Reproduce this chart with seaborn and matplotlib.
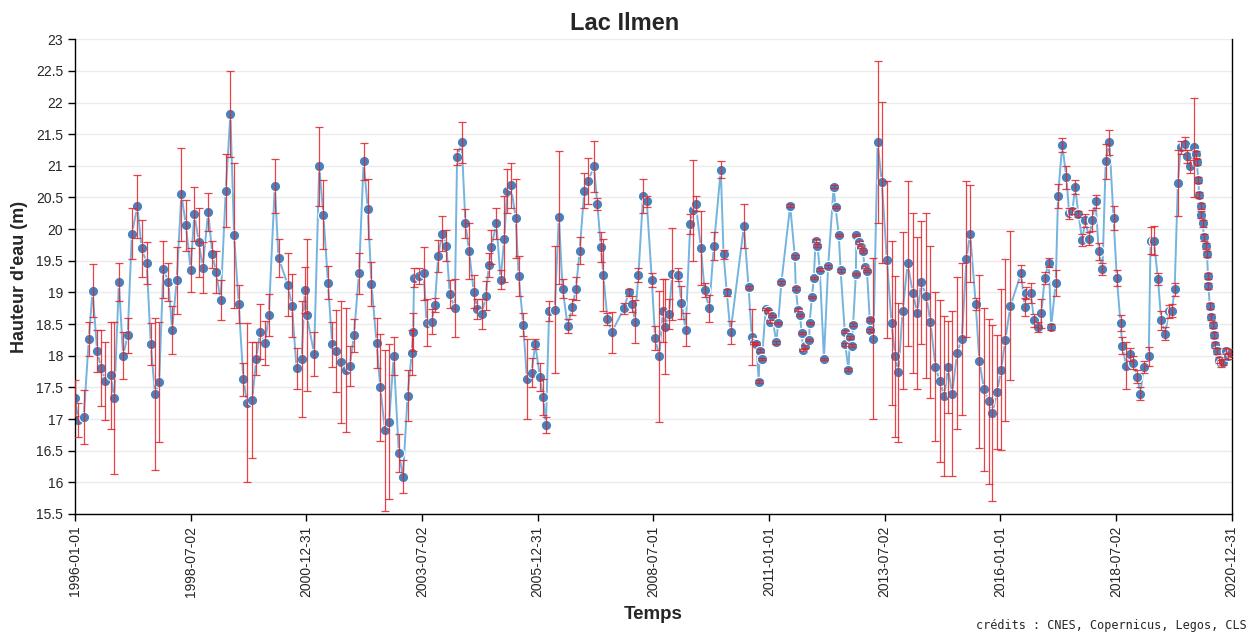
import numpy as np
import pandas as pd
import seaborn as sns
import matplotlib.pyplot as plt

# ==============================
# Data
# ==============================
years = [
    1996.00, 1996.07, 1996.19, 1996.30, 1996.38, 1996.48, 1996.57, 1996.66, 1996.77, 1996.85,
    1996.95, 1997.04, 1997.14, 1997.23, 1997.35, 1997.44, 1997.55, 1997.64, 1997.73, 1997.82,
    1997.91, 1998.02, 1998.10, 1998.20, 1998.30, 1998.40, 1998.50, 1998.58, 1998.68, 1998.76,
    1998.88, 1998.97, 1999.05, 1999.15, 1999.26, 1999.36, 1999.44, 1999.54, 1999.64, 1999.72,
    1999.83, 1999.92, 2000.00, 2000.11, 2000.19, 2000.32, 2000.40, 2000.60, 2000.69, 2000.79,
    2000.90, 2000.97, 2001.01, 2001.17, 2001.28, 2001.37, 2001.47, 2001.56, 2001.64, 2001.75,
    2001.85, 2001.94, 2002.03, 2002.14, 2002.24, 2002.33, 2002.41, 2002.52, 2002.60, 2002.70,
    2002.79, 2002.89, 2003.00, 2003.09, 2003.19, 2003.28, 2003.31, 2003.33, 2003.43, 2003.54,
    2003.60, 2003.71, 2003.78, 2003.85, 2003.94, 2004.03, 2004.10, 2004.21, 2004.26, 2004.36,
    2004.44, 2004.52, 2004.62, 2004.70, 2004.80, 2004.88, 2004.95, 2005.00, 2005.11, 2005.20,
    2005.28, 2005.34, 2005.42, 2005.53, 2005.59, 2005.69, 2005.77, 2005.87, 2005.95, 2006.05,
    2006.12, 2006.18, 2006.25, 2006.37, 2006.46, 2006.54, 2006.65, 2006.75, 2006.83, 2006.91,
    2007.01, 2007.09, 2007.22, 2007.29, 2007.37, 2007.42, 2007.51, 2007.60, 2007.87, 2007.97,
    2008.05, 2008.10, 2008.18, 2008.28, 2008.36, 2008.47, 2008.54, 2008.63, 2008.71, 2008.75,
    2008.84, 2008.91, 2009.04, 2009.11, 2009.20, 2009.30, 2009.35, 2009.42, 2009.53, 2009.61,
    2009.71, 2009.81, 2009.96, 2010.02, 2010.09, 2010.17, 2010.46, 2010.56, 2010.63, 2010.68,
    2010.73, 2010.78, 2010.80, 2010.85, 2010.93, 2010.98, 2011.02, 2011.07, 2011.16, 2011.20,
    2011.27, 2011.46, 2011.56, 2011.58, 2011.63, 2011.67, 2011.71, 2011.74, 2011.77, 2011.87,
    2011.88, 2011.93, 2011.97, 2012.01, 2012.05, 2012.10, 2012.19, 2012.28, 2012.40, 2012.44,
    2012.51, 2012.55, 2012.64, 2012.65, 2012.72, 2012.75, 2012.80, 2012.82, 2012.88, 2012.89,
    2012.94, 2012.98, 2013.03, 2013.07, 2013.12, 2013.18, 2013.19, 2013.26, 2013.35, 2013.44,
    2013.55, 2013.65, 2013.73, 2013.80, 2013.89, 2014.00, 2014.11, 2014.21, 2014.29, 2014.40,
    2014.49, 2014.60, 2014.69, 2014.79, 2014.87, 2014.96, 2015.07, 2015.17, 2015.27, 2015.35,
    2015.47, 2015.55, 2015.65, 2015.75, 2015.83, 2015.93, 2016.02, 2016.11, 2016.22, 2016.45,
    2016.53, 2016.56, 2016.66, 2016.73, 2016.82, 2016.89, 2016.96, 2017.05, 2017.10, 2017.20,
    2017.25, 2017.34, 2017.43, 2017.49, 2017.56, 2017.62, 2017.69, 2017.77, 2017.84, 2017.92,
    2017.99, 2018.06, 2018.13, 2018.21, 2018.28, 2018.36, 2018.45, 2018.52, 2018.60, 2018.64,
    2018.72, 2018.80, 2018.88, 2018.96, 2019.03, 2019.10, 2019.21, 2019.25, 2019.32, 2019.41,
    2019.48, 2019.57, 2019.64, 2019.71, 2019.77, 2019.84, 2019.90, 2019.99, 2020.04, 2020.11,
    2020.18, 2020.24, 2020.25, 2020.28, 2020.30, 2020.33, 2020.35, 2020.38, 2020.40, 2020.44,
    2020.47, 2020.49, 2020.50, 2020.53, 2020.56, 2020.60, 2020.63, 2020.65, 2020.68, 2020.72,
    2020.77, 2020.82, 2020.87, 2020.92, 2020.99,
]

hauteur = [
    17.33, 16.99, 17.03, 18.26, 19.03, 18.07, 17.80, 17.60, 17.69, 17.33,
    19.16, 18.00, 18.32, 19.93, 20.36, 19.70, 19.47, 18.18, 17.39, 17.58,
    19.37, 19.17, 18.41, 19.19, 20.55, 20.06, 19.36, 20.24, 19.79, 19.39,
    20.27, 19.60, 19.32, 18.88, 20.61, 21.82, 19.90, 18.82, 17.63, 17.26,
    17.30, 17.95, 18.38, 18.20, 18.64, 20.68, 19.55, 19.12, 18.79, 17.80,
    17.95, 19.04, 18.64, 18.03, 20.99, 20.23, 19.15, 18.18, 18.07, 17.90,
    17.78, 17.84, 18.32, 19.30, 21.07, 20.32, 19.13, 18.20, 17.50, 16.82,
    16.96, 17.99, 16.47, 16.09, 17.37, 18.05, 18.37, 19.23, 19.26, 19.30,
    18.52, 18.54, 18.80, 19.58, 19.93, 19.74, 18.98, 18.75, 21.14, 21.37,
    20.09, 19.65, 19.01, 18.74, 18.66, 18.95, 19.44, 19.72, 20.09, 19.20,
    19.85, 20.60, 20.69, 20.17, 19.26, 18.49, 17.63, 17.73, 18.18, 17.67,
    17.35, 16.91, 18.71, 18.73, 20.19, 19.06, 18.47, 18.77, 19.06, 19.66,
    20.61, 20.76, 20.99, 20.40, 19.72, 19.28, 18.58, 18.37, 18.75, 19.00,
    18.82, 18.54, 19.28, 20.53, 20.44, 19.19, 18.28, 17.99, 18.71, 18.46,
    18.66, 19.29, 19.28, 18.84, 18.41, 20.08, 20.30, 20.40, 19.70, 19.04,
    18.75, 19.74, 20.94, 19.60, 19.00, 18.37, 20.05, 19.08, 18.30, 18.20,
    18.19, 17.59, 18.08, 17.95, 18.74, 18.70, 18.54, 18.63, 18.21, 18.52,
    19.16, 20.37, 19.57, 19.06, 18.73, 18.64, 18.36, 18.09, 18.15, 18.25,
    18.52, 18.93, 19.23, 19.82, 19.74, 19.36, 17.95, 19.41, 20.67, 20.35,
    19.91, 19.35, 18.38, 18.18, 17.78, 18.29, 18.16, 18.49, 19.29, 19.91,
    19.79, 19.72, 19.65, 19.40, 19.34, 18.57, 18.40, 18.27, 21.37, 20.74,
    19.52, 18.52, 17.99, 17.74, 18.71, 19.46, 18.99, 18.67, 19.16, 18.95,
    18.54, 17.83, 17.60, 17.36, 17.82, 17.40, 18.05, 18.27, 19.53, 19.93,
    18.82, 17.91, 17.47, 17.28, 17.09, 17.42, 17.78, 18.25, 18.79, 19.30,
    18.77, 18.99, 18.99, 18.56, 18.45, 18.67, 19.23, 19.47, 18.45, 19.15,
    20.53, 21.33, 20.82, 20.25, 20.29, 20.67, 20.24, 19.83, 20.14, 19.85,
    20.14, 20.44, 19.65, 19.37, 21.07, 21.37, 20.17, 19.23, 18.52, 18.16,
    17.84, 18.02, 17.89, 17.67, 17.40, 17.82, 17.99, 19.82, 19.82, 19.21,
    18.56, 18.35, 18.70, 18.71, 19.05, 20.73, 21.29, 21.35, 21.15, 20.99,
    21.29, 21.18, 21.06, 20.78, 20.54, 20.37, 20.23, 20.09, 19.87, 19.73,
    19.61, 19.26, 19.10, 18.79, 18.61, 18.49, 18.33, 18.17, 18.07, 17.93,
    17.88, 17.90, 18.07, 18.00, 18.05,
]

incertitude = [
    0.28, 0.27, 0.43, 0.27, 0.42, 0.33, 0.60, 0.62, 0.85, 1.20,
    0.30, 0.37, 0.28, 0.40, 0.50, 0.45, 0.33, 0.33, 1.20, 0.95,
    0.45, 0.30, 0.38, 0.53, 0.73, 0.40, 0.35, 0.42, 0.54, 0.40,
    0.30, 0.22, 0.33, 0.32, 0.57, 0.68, 1.15, 0.30, 0.26, 1.25,
    0.92, 0.26, 0.43, 0.35, 0.33, 0.43, 0.30, 0.50, 0.50, 0.32,
    0.92, 0.36, 1.20, 0.35, 0.62, 0.55, 0.26, 0.36, 0.65, 0.96,
    0.98, 0.32, 0.26, 0.32, 0.29, 0.47, 0.35, 0.40, 0.84, 1.27,
    1.22, 0.30, 0.30, 0.26, 0.40, 0.36, 0.30, 0.15, 0.12, 0.42,
    0.37, 0.20, 0.11, 0.25, 0.27, 0.24, 0.22, 0.46, 0.13, 0.33,
    0.23, 0.44, 0.26, 0.16, 0.24, 0.23, 0.19, 0.27, 0.24, 0.15,
    0.68, 0.35, 0.35, 0.63, 0.32, 0.18, 0.63, 0.23, 0.08, 0.22,
    0.28, 0.13, 0.16, 1.00, 1.05, 0.15, 0.11, 0.13, 0.18, 0.21,
    0.28, 0.37, 0.41, 0.09, 0.24, 0.57, 0.09, 0.32, 0.09, 0.05,
    0.13, 0.34, 0.11, 0.27, 0.09, 0.11, 0.19, 1.03, 0.50, 0.75,
    0.24, 0.73, 0.10, 0.26, 0.26, 0.16, 0.80, 0.12, 0.58, 0.11,
    0.21, 0.22, 0.13, 0.07, 0.06, 0.18, 0.35, 0.02, 0.44, 0.02,
    0.02, 0.02, 0.02, 0.02, 0.02, 0.02, 0.02, 0.02, 0.02, 0.02,
    0.02, 0.02, 0.02, 0.02, 0.02, 0.02, 0.02, 0.02, 0.02, 0.02,
    0.02, 0.02, 0.02, 0.02, 0.02, 0.02, 0.02, 0.02, 0.02, 0.02,
    0.02, 0.02, 0.02, 0.02, 0.02, 0.02, 0.02, 0.02, 0.02, 0.02,
    0.02, 0.02, 0.02, 0.02, 0.02, 0.02, 0.02, 1.27, 1.28, 1.27,
    1.24, 1.30, 1.27, 1.10, 1.24, 1.30, 1.26, 1.20, 0.97, 1.30,
    1.20, 1.18, 1.28, 1.26, 0.73, 1.30, 1.20, 1.20, 1.23, 0.76,
    0.09, 1.37, 1.29, 1.30, 1.39, 0.90, 1.27, 1.28, 1.18, 0.13,
    0.15, 0.10, 0.16, 0.10, 0.08, 0.23, 0.10, 0.07, 0.05, 0.21,
    0.19, 0.11, 0.18, 0.09, 0.05, 0.11, 0.05, 0.10, 0.10, 0.10,
    0.17, 0.10, 0.13, 0.10, 0.27, 0.20, 0.19, 0.13, 0.13, 0.13,
    0.37, 0.10, 0.10, 0.10, 0.10, 0.10, 0.15, 0.22, 0.23, 0.10,
    0.15, 0.10, 0.10, 0.10, 0.10, 0.52, 0.10, 0.10, 0.10, 0.10,
    0.78, 0.05, 0.05, 0.05, 0.05, 0.05, 0.05, 0.05, 0.05, 0.05,
    0.05, 0.05, 0.05, 0.05, 0.05, 0.05, 0.05, 0.05, 0.05, 0.05,
    0.05, 0.05, 0.05, 0.05, 0.05,
]

tick_dates = ["1996-01-01", "1998-07-02", "2000-12-31", "2003-07-02", "2005-12-31",
              "2008-07-01", "2011-01-01", "2013-07-02", "2016-01-01", "2018-07-02",
              "2020-12-31"]

# decimal years -> real dates
yrs = np.array(years)
dates = pd.to_datetime("1996-01-01") + pd.to_timedelta((yrs - 1996) * 365.25, unit="D")
df = pd.DataFrame({"date": dates, "hauteur": hauteur, "err": incertitude})

# ==============================
# Plot
# ==============================
sns.set_style("white")
plt.rcParams["font.family"] = ["Liberation Sans", "DejaVu Sans"]

fig = plt.figure(figsize=(12.49, 6.33), dpi=100)
ax = fig.add_axes([0.060, 0.188, 0.926, 0.750])

sns.lineplot(data=df, x="date", y="hauteur", ax=ax, color="#74b4de",
             linewidth=1.4, zorder=1)
sns.scatterplot(data=df, x="date", y="hauteur", ax=ax, color="#4682bd",
                edgecolor="white", linewidth=0.8, s=55, zorder=2)
ax.errorbar(df["date"], df["hauteur"], yerr=df["err"], fmt="none",
            ecolor="#e32228", elinewidth=0.9, capsize=2.6, capthick=0.9,
            alpha=0.85, zorder=3)

# axes
ax.set_ylim(15.5, 23)
yt = np.arange(15.5, 23.01, 0.5)
ax.set_yticks(yt)
ax.set_yticklabels([f"{v:g}" for v in yt])
ax.set_xlim(pd.Timestamp(tick_dates[0]), pd.Timestamp(tick_dates[-1]))
ax.set_xticks(pd.to_datetime(tick_dates))
ax.set_xticklabels(tick_dates, rotation=90)

ax.yaxis.grid(True, color="#ebebeb", linewidth=1)
ax.xaxis.grid(False)
ax.set_axisbelow(True)
for s in ["left", "bottom", "right"]:
    ax.spines[s].set_color("black")
    ax.spines[s].set_linewidth(1.0)
ax.spines["top"].set_visible(False)
ax.tick_params(axis="both", which="major", direction="out", length=5,
               width=1, labelsize=10, color="black", left=True, bottom=True)

# title is centred on the whole figure, not the axes
fig.text(0.5, 0.963, "Lac Ilmen", fontsize=17, fontweight="bold",
         ha="center", va="center")
ax.set_xlabel("Temps", fontsize=13.5, fontweight="bold", labelpad=6)
ax.set_ylabel("Hauteur d'eau (m)", fontsize=13, fontweight="bold", labelpad=6)

fig.text(0.998, 0.012, "crédits : CNES, Copernicus, Legos, CLS",
         family="DejaVu Sans Mono", fontsize=8.5, ha="right", va="center")

fig.savefig("out.png", dpi=100)
